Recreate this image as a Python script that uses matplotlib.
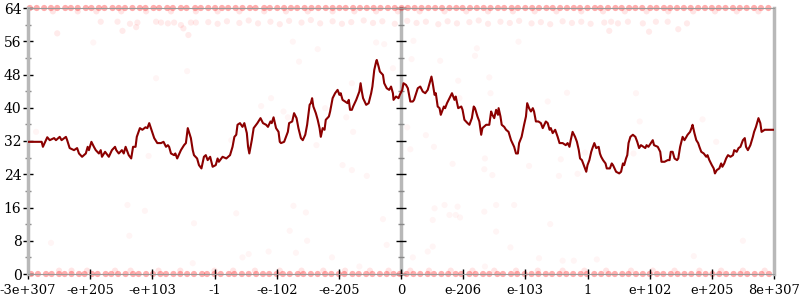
import matplotlib
matplotlib.use("Agg")
import matplotlib.pyplot as plt
from matplotlib.ticker import MultipleLocator

# ============================================================
# DATA
# ============================================================

tick_pos = [-6, -5, -4, -3, -2, -1, 0, 1, 2, 3, 4, 5, 6]
tick_labels = ["-3e+307", "-e+205", "-e+103", "-1", "-e-102", "-e-205", "0",
               "e-206", "e-103", "1", "e+102", "e+205", "8e+307"]

line_x = [
    -6.0, -5.78, -5.76, -5.69, -5.65, -5.58, -5.55, -5.49, -5.46, -5.39, -5.37, -5.33,
    -5.26, -5.21, -5.18, -5.13, -5.07, -5.04, -5.02, -4.98, -4.94, -4.91, -4.86, -4.83,
    -4.81, -4.76, -4.70, -4.65, -4.60, -4.58, -4.54, -4.49, -4.46, -4.43, -4.38, -4.34,
    -4.31, -4.27, -4.25, -4.20, -4.16, -4.11, -4.08, -4.05, -3.97, -3.92,
    -3.86, -3.82, -3.78, -3.75, -3.73, -3.70, -3.65, -3.63, -3.60, -3.54, -3.49, -3.46,
    -3.43, -3.38, -3.35, -3.33, -3.28, -3.25, -3.21, -3.17, -3.14, -3.11, -3.07, -3.03,
    -2.98, -2.95, -2.93, -2.87, -2.81, -2.78, -2.75, -2.71, -2.68, -2.65, -2.63, -2.59,
    -2.55, -2.52, -2.48, -2.46, -2.44, -2.40, -2.37, -2.33, -2.31, -2.26, -2.22, -2.17,
    -2.14, -2.10, -2.08, -2.05, -2.01, -1.97, -1.95, -1.93,
    -1.88, -1.85, -1.82, -1.80, -1.75, -1.72, -1.68, -1.65, -1.61, -1.58, -1.54, -1.51,
    -1.47, -1.45, -1.43, -1.41, -1.37, -1.34, -1.31, -1.29, -1.26, -1.23, -1.21, -1.16,
    -1.14, -1.10, -1.06, -1.02, -0.99, -0.97, -0.94, -0.90, -0.86, -0.84, -0.82, -0.79,
    -0.77, -0.72, -0.70, -0.67, -0.65, -0.63, -0.61, -0.56, -0.52, -0.48, -0.46, -0.43,
    -0.40, -0.39, -0.36, -0.34, -0.29, -0.27, -0.23, -0.19, -0.16, -0.13, -0.12, -0.08,
    -0.04, -0.02, 0.02, 0.04,
    0.08, 0.11, 0.15, 0.19, 0.21, 0.27, 0.31, 0.35, 0.39, 0.43, 0.46, 0.49,
    0.51, 0.54, 0.56, 0.59, 0.62, 0.64, 0.69, 0.71, 0.74, 0.78, 0.82, 0.86,
    0.88, 0.92, 0.97, 0.99, 1.02, 1.07, 1.10, 1.14, 1.17, 1.19, 1.23, 1.26,
    1.29, 1.31, 1.37, 1.42, 1.45, 1.47, 1.50, 1.53, 1.56, 1.57, 1.60, 1.62,
    1.66, 1.69, 1.73, 1.77, 1.82, 1.85, 1.88, 1.90, 1.94, 1.98, 2.01, 2.03, 2.06,
    2.09, 2.12, 2.14, 2.17, 2.21, 2.25, 2.28, 2.33, 2.36, 2.39, 2.41, 2.44,
    2.48, 2.52, 2.55, 2.60, 2.65, 2.68, 2.71, 2.73, 2.76, 2.80, 2.83, 2.86,
    2.88, 2.91, 2.95, 2.98, 3.00, 3.03, 3.06, 3.08, 3.11, 3.14, 3.18, 3.20,
    3.22, 3.25, 3.29, 3.31, 3.36, 3.39, 3.41, 3.46, 3.51, 3.54, 3.57, 3.59,
    3.62, 3.64, 3.66, 3.69, 3.73, 3.77, 3.80, 3.83, 3.86, 3.90, 3.93, 3.95, 3.98, 4.02,
    4.05, 4.07, 4.13, 4.17, 4.19, 4.24, 4.29, 4.32, 4.34, 4.37, 4.40, 4.44,
    4.46, 4.49, 4.53, 4.56, 4.58, 4.61, 4.65, 4.68, 4.69, 4.72, 4.75, 4.78,
    4.80, 4.83, 4.87, 4.91, 4.93, 4.96, 5.00, 5.03, 5.05, 5.08, 5.12, 5.15,
    5.17, 5.20, 5.23, 5.26, 5.30, 5.34, 5.36, 5.40, 5.43, 5.46, 5.50, 5.53,
    5.55, 5.58, 5.62, 5.66, 5.68, 5.71, 5.75, 5.78, 5.80, 5.85, 5.90, 6.0,
]

line_y = [
    31.8, 31.8, 30.6, 32.9, 32.2, 32.7, 32.2, 33.0, 32.2, 33.0, 32.2, 30.3,
    29.8, 30.3, 29.0, 28.2, 29.0, 30.6, 29.8, 31.8, 30.6, 29.8, 29.0, 29.8,
    28.2, 29.4, 28.2, 29.8, 30.6, 29.8, 29.0, 29.8, 29.0, 30.6, 28.6, 27.8,
    30.6, 30.6, 33.0, 35.1, 34.7, 35.3, 35.1, 36.3, 32.7, 31.5,
    31.5, 31.8, 30.6, 31.0, 30.6, 29.0, 28.6, 29.0, 27.8, 29.8, 31.0, 31.5,
    35.1, 32.7, 29.8, 28.6, 27.8, 26.2, 25.4, 28.2, 28.6, 27.4, 28.2, 25.8,
    26.2, 27.8, 27.0, 28.2, 27.8, 28.2, 28.6, 30.6, 33.0, 33.5, 35.9, 36.3,
    35.4, 36.3, 33.9, 30.6, 29.0, 32.2, 35.1, 35.9, 36.3, 37.5, 36.3, 35.9,
    35.4, 36.7, 36.3, 37.7, 35.1, 34.2, 31.8, 31.5,
    31.8, 33.0, 34.2, 36.3, 36.7, 38.7, 37.5, 35.1, 32.7, 32.2, 33.5, 35.9,
    40.7, 41.1, 42.3, 40.3, 38.7, 37.1, 35.1, 33.0, 35.1, 34.7, 37.1, 37.9,
    39.1, 42.3, 43.5, 44.3, 43.1, 43.5, 41.9, 41.5, 41.1, 41.9, 39.5, 39.5,
    40.3, 41.9, 42.7, 43.9, 45.9, 43.9, 42.3, 40.7, 41.1, 43.5, 45.1, 49.1,
    51.1, 51.5, 49.9, 48.7, 47.9, 45.9, 44.7, 44.3, 45.1, 43.5, 41.9, 42.7,
    42.3, 43.1, 44.3, 45.9,
    45.5, 44.7, 41.5, 41.5, 41.9, 44.7, 45.1, 43.9, 43.5, 44.3, 45.9, 47.5,
    45.9, 43.1, 43.5, 40.3, 39.9, 38.3, 40.3, 39.9, 41.1, 42.3, 43.5, 41.9,
    42.7, 39.9, 40.3, 39.5, 37.1, 36.3, 35.9, 37.5, 40.3, 39.9, 37.9, 36.7,
    33.5, 35.1, 35.9, 35.9, 39.1, 38.3, 37.5, 39.5, 38.3, 39.9, 37.9, 35.9,
    35.4, 34.7, 34.2, 32.2, 30.6, 29.0, 29.0, 31.5, 33.0, 35.9, 37.9, 41.1, 39.9,
    39.1, 39.9, 39.1, 36.7, 36.7, 36.3, 35.1, 36.7, 36.3, 34.7, 35.1, 33.9,
    34.7, 33.0, 31.5, 31.5, 31.0, 31.5, 30.6, 32.2, 34.2, 33.0, 31.8, 29.8,
    27.8, 27.4, 25.8, 24.6, 26.2, 27.4, 29.4, 30.3, 31.5, 30.3, 30.6, 29.0,
    28.2, 27.4, 26.6, 25.4, 25.4, 26.6, 26.2, 24.6, 24.2, 24.6, 26.6, 26.2,
    27.8, 28.6, 31.5, 33.0, 33.5, 33.0, 31.8, 30.3, 31.0, 30.6, 30.3, 31.0, 30.6, 31.5,
    32.2, 31.0, 30.6, 29.4, 27.0, 27.0, 27.4, 27.4, 29.4, 29.4, 27.8, 27.4,
    27.8, 30.6, 33.0, 32.2, 32.7, 33.5, 34.2, 35.4, 35.9, 33.9, 32.2, 31.5,
    30.6, 29.4, 29.0, 28.2, 28.6, 27.4, 26.2, 25.4, 24.2, 25.0, 25.4, 26.6,
    25.8, 26.6, 27.8, 28.6, 28.2, 28.6, 29.8, 29.4, 30.3, 30.6, 32.2, 32.7,
    30.6, 29.8, 31.0, 33.0, 34.2, 35.4, 37.5, 36.3, 34.2, 34.7, 34.7, 34.7,
]

# dense rows of samples at the limits
floor_x = [
    -5.95, -5.84, -5.71, -5.62, -5.50, -5.41, -5.30, -5.18, -5.09, -4.97, -4.88, -4.75,
    -4.66, -4.55, -4.43, -4.31, -4.22, -4.10, -3.99, -3.87, -3.78, -3.66, -3.55, -3.44,
    -3.33, -3.20, -3.12, -3.00, -2.90, -2.77, -2.68, -2.56, -2.45, -2.33, -2.22, -2.12,
    -2.00, -1.90, -1.79, -1.66, -1.57, -1.45, -1.34, -1.22, -1.12, -1.00, -0.91, -0.78,
    -0.68, -0.56, -0.46, -0.34, -0.23, -0.12, -0.02, 0.09, 0.20, 0.31, 0.43, 0.53,
    0.65, 0.76, 0.88, 0.97, 1.10, 1.20, 1.32, 1.42, 1.55, 1.64, 1.77, 1.87,
    1.99, 2.10, 2.21, 2.33, 2.43, 2.55, 2.66, 2.77, 2.89, 2.99, 3.11, 3.22,
    3.34, 3.44, 3.56, 3.66, 3.78, 3.89, 4.00, 4.12, 4.22, 4.34, 4.45, 4.56,
    4.67, 4.79, 4.90, 5.01, 5.12, 5.23, 5.35, 5.46, 5.57, 5.69, 5.80, 5.92,
]
floor_near_x = [
    -5.5, -5.3, -5.05, -4.6, -4.35, -3.9, -3.55, -3.0, -2.7, -2.35, -1.95, -1.6,
    -1.25, -0.9, -0.5, -0.2, 0.15, 0.45, 0.8, 1.15, 1.5, 1.85, 2.2, 2.6,
    2.95, 3.3, 3.7, 4.05, 4.4, 4.8, 5.15, 5.5, 5.85,
]
ceil_x = [
    -5.97, -5.86, -5.74, -5.63, -5.53, -5.40, -5.31, -5.20, -5.07, -4.98, -4.86, -4.77,
    -4.64, -4.54, -4.44, -4.32, -4.20, -4.11, -3.98, -3.89, -3.76, -3.67, -3.54, -3.45,
    -3.31, -3.22, -3.10, -2.99, -2.88, -2.78, -2.66, -2.55, -2.43, -2.34, -2.20, -2.11,
    -1.99, -1.88, -1.77, -1.67, -1.55, -1.44, -1.33, -1.21, -1.10, -0.99, -0.89, -0.77,
    -0.66, -0.55, -0.44, -0.33, -0.21, -0.10, 0.01, 0.11, 0.22, 0.33, 0.44, 0.55,
    0.66, 0.78, 0.89, 0.99, 1.11, 1.22, 1.33, 1.44, 1.56, 1.66, 1.78, 1.88,
    2.00, 2.11, 2.22, 2.34, 2.44, 2.56, 2.67, 2.78, 2.88, 3.00, 3.12, 3.21,
    3.33, 3.45, 3.55, 3.67, 3.77, 3.88, 4.01, 4.11, 4.23, 4.33, 4.44, 4.55,
    4.66, 4.78, 4.89, 5.00, 5.11, 5.22, 5.34, 5.45, 5.56, 5.68, 5.79, 5.91,
]
ceil_near_x = [
    -5.6, -5.2, -4.9, -4.5, -4.1, -3.7, -3.3, -2.95, -2.6, -2.2, -1.85, -1.5,
    -1.1, -0.75, -0.4, -0.05, 0.3, 0.7, 1.05, 1.4, 1.8, 2.15, 2.5, 2.9,
    3.25, 3.6, 3.95, 4.3, 4.7, 5.05, 5.4, 5.75,
]

# band of samples just under the top
band_x = [
    -4.83, -4.56, -4.36, -4.24, -4.26, -4.48, -3.94, -3.86, -3.75, -3.65, -3.54, -3.50,
    -3.38, -3.30, -5.53, -3.42, -3.10, -2.95, -2.80, -2.60, -2.45, -2.30, -2.10, -1.95,
    -1.80, -1.60, -1.45, -1.30, -1.10, -0.95, -0.80, -0.60, -0.45, -0.30, -0.10, 0.10,
    0.25, 0.40, 0.60, 0.75, 0.90, 1.10, 1.25, 1.40, 1.60, 1.75, 1.90, 2.10,
    2.25, 2.40, 2.60, 2.75, 2.90, 3.05, 3.27, 3.38, 3.49, 3.65, 3.89, 4.10,
    4.29, 4.60, 3.35, 3.99, 4.46,
]
band_y = [
    60.7, 60.7, 60.2, 60.5, 59.4, 58.5, 60.7, 60.5, 60.3, 60.5, 59.9, 59.1,
    60.5, 60.5, 57.9, 57.5, 60.6, 60.2, 60.8, 60.4, 61.0, 60.3, 60.7, 60.1,
    60.9, 60.5, 61.1, 60.3, 60.8, 60.2, 60.6, 61.0, 60.4, 60.8, 60.2, 60.9,
    60.4, 60.7, 60.1, 60.8, 60.3, 60.6, 61.0, 60.2, 60.7, 60.4, 60.9, 60.3,
    60.6, 60.1, 60.8, 60.4, 60.7, 60.2, 60.5, 60.7, 60.3, 60.7, 60.3, 60.7,
    60.7, 60.3, 58.5, 58.3, 58.9,
]

# sparse samples elsewhere
spot_x = [
    -5.87, -4.95, -3.94, -4.06, -3.44, -2.25, -2.09, -2.73, -1.74, -1.34, -1.64, -0.40,
    -0.27, -0.13, -0.79, -1.22, -1.89, -1.82, -0.88, -0.77, -1.36, -0.94, -0.55, -0.79,
    0.20, 1.22, 1.19, 1.89, 0.17, 0.63, 0.92, 1.42, 1.44, 0.94, 0.10, 0.40,
    0.53, 0.15, 0.83, 1.35, 1.34, 1.47, 2.06, 2.67, 2.36, 3.84, 3.78, 2.57,
    2.96, 3.74, 2.54, 2.84, 4.85, 5.07,
    -4.40, -4.12, -5.63, -4.37, -3.33, -3.35, -2.65, -2.55, -2.45, -2.13, -1.79, -1.73,
    -1.69, -1.53, -1.51, -1.11, -0.29, -0.23, -0.67, 0.54, 0.70, 0.91, 0.51, 0.78,
    0.88, 0.95, 1.34, 1.53, 1.82, 1.53, 2.40, 0.19, 0.43, 0.51, 1.76, 2.22,
    2.60, 2.78, 3.15, 4.71, 5.50, 1.35,
]
spot_y = [
    34.2, 55.7, 47.1, 28.4, 48.8, 40.4, 42.3, 32.2, 55.9, 54.1, 51.1, 55.7,
    55.3, 49.5, 45.9, 39.9, 39.1, 37.7, 37.7, 34.2, 31.0, 26.2, 23.6, 25.0,
    56.1, 54.3, 52.5, 55.9, 51.7, 51.3, 46.5, 47.3, 43.5, 42.3, 35.3, 33.4,
    30.6, 30.0, 26.5, 27.8, 25.2, 23.8, 26.0, 43.6, 41.5, 36.7, 43.5, 27.6,
    29.2, 29.0, 23.6, 24.1, 37.2, 31.8,
    16.6, 15.2, 7.5, 9.2, 12.2, 2.6, 14.6, 4.0, 4.8, 5.4, 10.4, 16.4,
    5.1, 14.8, 8.0, 4.0, 13.2, 7.0, 1.8, 15.8, 16.6, 16.2, 13.0, 14.2,
    14.2, 13.6, 15.0, 16.6, 16.6, 10.2, 12.0, 4.0, 5.4, 6.6, 6.4, 3.8,
    3.2, 3.2, 3.5, 4.3, 8.0, 1.8,
]

# ============================================================
# PLOT
# ============================================================

plt.rcParams["font.family"] = ["DejaVu Serif"]
plt.rcParams["font.size"] = 10

fig = plt.figure(figsize=(8, 3), dpi=100)
ax = fig.add_axes([28 / 800, 26 / 300, 746 / 800, 266 / 300])

ax.set_xlim(-6, 6)
ax.set_ylim(0, 64)

dot = dict(s=20, color="red", edgecolors="none", clip_on=False, zorder=1)

ax.scatter(floor_x, [0] * len(floor_x), alpha=0.32, **dot)
ax.scatter(floor_near_x, [0.8] * len(floor_near_x), alpha=0.1, **dot)
ax.scatter(ceil_x, [64] * len(ceil_x), alpha=0.32, **dot)
ax.scatter(ceil_near_x, [63.2] * len(ceil_near_x), alpha=0.1, **dot)
ax.scatter(band_x, band_y, alpha=0.08, **dot)
ax.scatter(spot_x, spot_y, alpha=0.04, **dot)

ax.plot(line_x, line_y, color="#8b0000", linewidth=1.5, zorder=3)

# axes look
grey = "#b8b8b8"
for side in ["left", "right"]:
    ax.spines[side].set_color(grey)
    ax.spines[side].set_linewidth(2.5)
ax.spines["bottom"].set_color("#999999")
ax.spines["bottom"].set_linewidth(0.8)
ax.spines["top"].set_color("#999999")
ax.spines["top"].set_linewidth(0.8)

ax.set_xticks(tick_pos)
ax.set_xticklabels(tick_labels, fontsize=9.4)
ax.yaxis.set_major_locator(MultipleLocator(8))
ax.yaxis.set_minor_locator(MultipleLocator(4))
ax.yaxis.set_ticks_position("both")

ax.tick_params(axis="x", direction="inout", length=7, width=1, color="black", pad=4)
ax.tick_params(axis="y", which="major", direction="inout", length=7.5, width=1,
               color="black", pad=1)
ax.tick_params(axis="y", which="minor", direction="inout", length=4.5, width=1,
               color="#888888")

# middle axis at zero
ax_mid = ax.twinx()
ax_mid.set_ylim(0, 64)
for side in ["left", "top", "bottom"]:
    ax_mid.spines[side].set_visible(False)
ax_mid.spines["right"].set_position(("data", 0))
ax_mid.spines["right"].set_color(grey)
ax_mid.spines["right"].set_linewidth(2.5)
ax_mid.spines["right"].set_zorder(0)
ax_mid.yaxis.set_major_locator(MultipleLocator(8))
ax_mid.yaxis.set_minor_locator(MultipleLocator(4))
ax_mid.tick_params(axis="y", which="major", direction="inout", length=7.5, width=1,
                   color="black", labelright=False)
ax_mid.tick_params(axis="y", which="minor", direction="inout", length=4.5, width=1,
                   color="#888888", labelright=False)
ax_mid.patch.set_visible(False)
ax.set_zorder(1)
ax.patch.set_visible(False)

fig.savefig("out.png", dpi=100, facecolor="white")
